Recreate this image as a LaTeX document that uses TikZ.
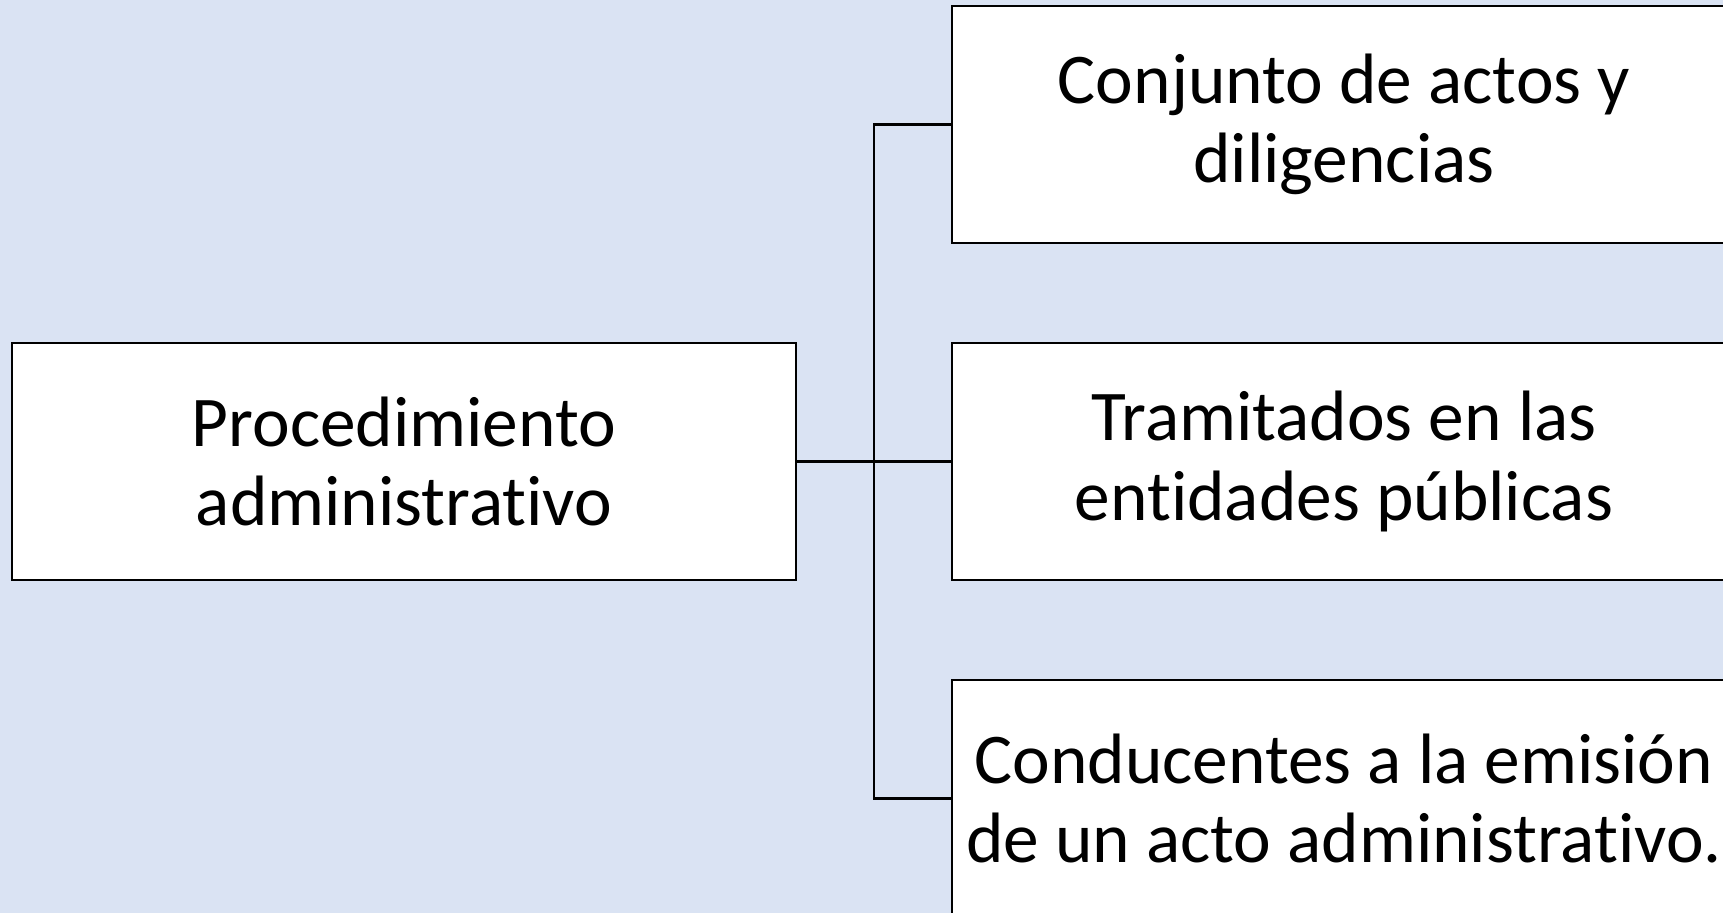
\documentclass[tikz,border=0pt]{standalone}
\usepackage{fontspec}
\setmainfont{Carlito}[Ligatures=NoCommon]
\usetikzlibrary{positioning,calc}
\definecolor{bgblue}{HTML}{DAE3F3}
\begin{document}
\begin{tikzpicture}[
    box/.style={draw=black,line width=0.8pt,fill=white,minimum width=7.84cm,minimum height=2.37cm,align=center,inner sep=0pt,outer sep=0pt,font=\fontsize{20.3}{22.5}\selectfont},
    link/.style={draw=black,line width=0.8pt}
  ]
    \fill[color=bgblue] (0,0) rectangle (17.23,9.13);
    \clip (0,0) rectangle (17.23,9.13);
    \node[box] (proc) at (4.04,4.515) {Procedimiento\\administrativo};
    \node[box,right=1.56cm of proc] (tram) {Tramitados en las\\entidades públicas};
    \node[box,above=1.0cm of tram] (conj) {Conjunto de actos y\\diligencias};
    \node[box,below=1.0cm of tram] (cond) {Conducentes a la emisión\\de un acto administrativo.};
    \coordinate (split) at ($(proc.east)!0.5!(tram.west)$);
    \draw[link] (proc.east) -- (tram.west);
    \draw[link] (conj.west) -| (split) |- (cond.west);
\end{tikzpicture}
\end{document}
